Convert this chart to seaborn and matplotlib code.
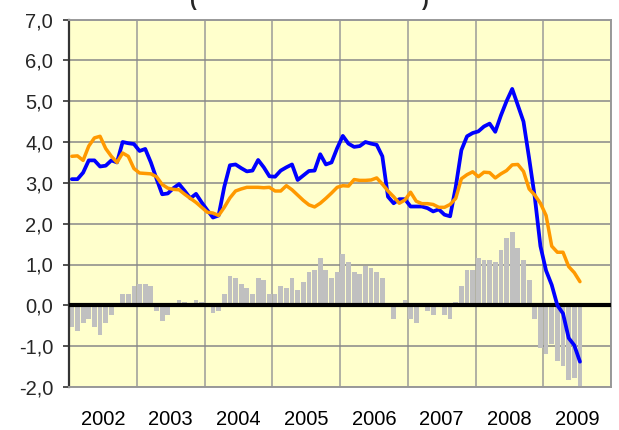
import numpy as np
import matplotlib
matplotlib.use("Agg")
import matplotlib.pyplot as plt
import seaborn as sns

# monatliche Werte Jan 2002 - Jul 2009
years = ["2002", "2003", "2004", "2005", "2006", "2007", "2008", "2009"]

blue_line = [3.09, 3.09, 3.25, 3.55, 3.55, 3.40, 3.42, 3.55, 3.50, 4.00, 3.97, 3.95,
             3.78, 3.83, 3.50, 3.10, 2.72, 2.74, 2.87, 2.97, 2.80, 2.62, 2.73, 2.52,
             2.33, 2.15, 2.20, 2.90, 3.43, 3.45, 3.36, 3.28, 3.30, 3.56, 3.38, 3.16,
             3.15, 3.30, 3.38, 3.45, 3.07, 3.18, 3.29, 3.30, 3.70, 3.45, 3.50, 3.85,
             4.15, 3.96, 3.88, 3.90, 4.00, 3.96, 3.93, 3.65, 2.66, 2.50, 2.60, 2.60,
             2.42, 2.42, 2.42, 2.38, 2.30, 2.35, 2.22, 2.18, 2.90, 3.80, 4.14, 4.22,
             4.26, 4.38, 4.45, 4.25, 4.65, 5.00, 5.30, 4.90, 4.50, 3.60, 2.65, 1.45,
             0.85, 0.50, 0.00, -0.20, -0.80, -0.98, -1.38]

orange_line = [3.65, 3.66, 3.55, 3.90, 4.10, 4.14, 3.84, 3.65, 3.50, 3.73, 3.65, 3.35,
               3.24, 3.23, 3.22, 3.15, 2.96, 2.87, 2.84, 2.83, 2.72, 2.62, 2.52, 2.40,
               2.28, 2.26, 2.20, 2.40, 2.63, 2.80, 2.85, 2.89, 2.89, 2.89, 2.88, 2.89,
               2.80, 2.80, 2.93, 2.83, 2.70, 2.57, 2.46, 2.41, 2.50, 2.62, 2.75, 2.89,
               2.93, 2.92, 3.08, 3.06, 3.06, 3.07, 3.12, 2.97, 2.80, 2.66, 2.50, 2.58,
               2.77, 2.55, 2.49, 2.49, 2.47, 2.40, 2.40, 2.47, 2.62, 3.10, 3.20, 3.27,
               3.15, 3.26, 3.25, 3.12, 3.22, 3.30, 3.44, 3.45, 3.28, 2.85, 2.70, 2.50,
               2.20, 1.45, 1.30, 1.30, 0.95, 0.80, 0.58]

bars = [-0.52, -0.63, -0.43, -0.33, -0.52, -0.72, -0.43, -0.23, 0.00, 0.28, 0.28, 0.48,
        0.52, 0.52, 0.48, -0.13, -0.38, -0.23, 0.00, 0.13, 0.08, 0.00, 0.13, 0.08,
        0.00, -0.18, -0.13, 0.28, 0.72, 0.67, 0.52, 0.43, 0.28, 0.67, 0.62, 0.28,
        0.28, 0.48, 0.43, 0.67, 0.38, 0.57, 0.82, 0.87, 1.16, 0.87, 0.67, 0.82,
        1.26, 1.07, 0.82, 0.77, 0.97, 0.92, 0.82, 0.67, 0.00, -0.33, 0.00, 0.13,
        -0.33, -0.43, 0.00, -0.13, -0.23, 0.00, -0.23, -0.33, 0.08, 0.48, 0.87, 0.87,
        1.16, 1.11, 1.11, 1.07, 1.36, 1.66, 1.80, 1.41, 1.11, 0.62, -0.33, -1.05,
        -1.20, -0.95, -1.36, -1.49, -1.84, -1.79, -2.05]

months = np.arange(len(bars))

sns.set_theme(style="white")
plt.rcParams['font.family'] = ['Liberation Sans', 'DejaVu Sans']

fig = plt.figure(figsize=(6.19, 4.30), dpi=100)
ax = fig.add_axes([69 / 619, 1 - 387 / 430, (611 - 69) / 619, (387 - 19.5) / 430])
ax.set_facecolor("#ffffcc")

sns.barplot(x=months, y=bars, native_scale=True, color="#c0c0c0", saturation=1,
            width=0.85, errorbar=None, ax=ax, zorder=2, linewidth=0)
ax.axhline(0, color="black", lw=3, zorder=3)
sns.lineplot(x=months, y=blue_line, color="#0000ff", lw=2.7, ax=ax, zorder=4,
             solid_joinstyle="round", solid_capstyle="round")
sns.lineplot(x=months, y=orange_line, color="#ff9900", lw=2.5, ax=ax, zorder=5,
             solid_joinstyle="round", solid_capstyle="round")

# Achsen
ax.set_xlim(-0.5, 95.5)
ax.set_ylim(-2, 7)
ax.set_xticks(np.arange(-0.5, 96, 12))
ax.set_xticklabels([])
ax.set_xticks(np.arange(5.5, 96, 12), minor=True)
ax.set_xticklabels(years, minor=True)
yt = np.arange(-2, 8)
ax.set_yticks(yt)
ax.set_yticklabels([f"{v:.1f}".replace(".", ",") for v in yt])
ax.set_xlabel("")
ax.set_ylabel("")

ax.set_axisbelow(True)
ax.yaxis.grid(True, color="#888888", lw=1.1)
ax.xaxis.grid(True, which="major", color="#aaaaa0", lw=1.3)

ax.tick_params(axis="x", which="both", length=0, labelsize=14.5, pad=16.5, colors="black")
ax.tick_params(axis="y", direction="out", length=4.5, width=1.2, color="#333333",
               labelsize=14.5, pad=7, left=True)

for side in ["top", "right", "bottom"]:
    ax.spines[side].set_color("#999999")
    ax.spines[side].set_linewidth(1.4)
ax.spines["left"].set_color("#333333")
ax.spines["left"].set_linewidth(1.6)

# Titel (oben angeschnitten wie im Original)
fig.text(193 / 619, 1 - 6 / 430, "(", fontsize=14.5, fontweight="bold", ha="center", va="baseline")
fig.text(425 / 619, 1 - 6 / 430, ")", fontsize=14.5, fontweight="bold", ha="center", va="baseline")

fig.savefig("out.png", dpi=100)
